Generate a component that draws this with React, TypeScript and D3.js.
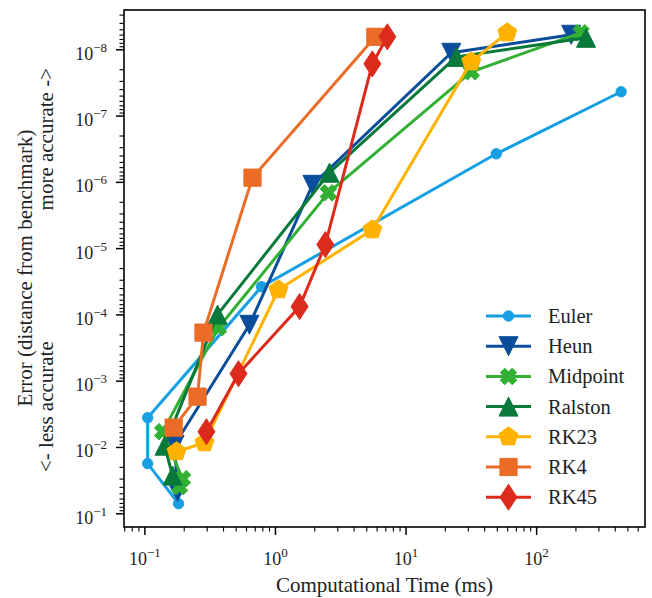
import React from "react";
import * as d3 from "d3";

// ---------- data ----------
const methods = ["Euler", "Heun", "Midpoint", "Ralston", "RK23", "RK4", "RK45"];
const colors = ["#16a0e3", "#0a4e9b", "#31b034", "#08793b", "#ffb300", "#eb6c27", "#dc2a1c"];
const shapes = ["circle", "triDown", "xfill", "triUp", "pentagon", "square", "thinDiamond"];

const eulerTime = [0.181, 0.105, 0.105, 0.782, 49.1, 444];
const eulerErr = [0.0705, 0.0175, 0.00356, 3.76e-5, 3.71e-7, 4.3e-8];

const heunTime = [0.178, 0.169, 0.632, 1.92, 22.2, 184];
const heunErr = [0.0465, 0.0091, 1.41e-4, 1.09e-6, 1.11e-8, 5.94e-9];

const midpointTime = [0.184, 0.194, 0.137, 0.366, 2.54, 31.6, 219];
const midpointErr = [0.039, 0.0296, 0.00578, 1.56e-4, 1.44e-6, 2.15e-8, 5.54e-9];

const ralstonTime = [0.163, 0.1415, 0.36, 2.59, 24.3, 239];
const ralstonErr = [0.0266, 0.0094, 9.9e-5, 7.16e-7, 1.28e-8, 6.6e-9];

const rk23Time = [0.175, 0.286, 1.054, 5.52, 31.6, 59.6];
const rk23Err = [0.01156, 0.00848, 4.17e-5, 5.19e-6, 1.52e-8, 5.54e-9];

const rk4Time = [0.166, 0.253, 0.281, 0.667, 5.82];
const rk4Err = [0.00502, 0.00171, 1.85e-4, 8.5e-7, 6.37e-9];

const rk45Time = [0.296, 0.521, 1.53, 2.41, 5.52, 7.19];
const rk45Err = [0.00578, 7.7e-4, 7.5e-5, 8.7e-6, 1.63e-8, 6.37e-9];

const seriesTimes = [eulerTime, heunTime, midpointTime, ralstonTime, rk23Time, rk4Time, rk45Time];
const seriesErrs = [eulerErr, heunErr, midpointErr, ralstonErr, rk23Err, rk4Err, rk45Err];

const xMajorExp = [-1, 0, 1, 2];
const yMajorExp = [-8, -7, -6, -5, -4, -3, -2, -1];

const xLabel = "Computational Time (ms)";
const yLabel1 = "Error (distance from benchmark)";
const yLabelLess = "<- less accurate";
const yLabelMore = "more accurate ->";

// ---------- layout ----------
const W = 652;
const H = 598;
const L = 124, R = 645, T = 10, B = 527;
const FONT = "Liberation Serif, serif";
const TXT = { fontFamily: FONT };

const x = d3.scaleLog().domain([Math.pow(10, -1.16), Math.pow(10, 2.83)]).range([L, R]);
const y = d3.scaleLog().domain([Math.pow(10, -0.8), Math.pow(10, -8.6)]).range([B, T]);

function markerPath(shape: string): string {
  switch (shape) {
    case "circle": {
      const r = 5.2;
      return `M${r},0A${r},${r} 0 1,1 ${-r},0A${r},${r} 0 1,1 ${r},0Z`;
    }
    case "triDown": {
      const s = 9.5;
      return `M${-s},${-s}L${s},${-s}L0,${s}Z`;
    }
    case "triUp": {
      const s = 9.5;
      return `M0,${-s}L${s},${s}L${-s},${s}Z`;
    }
    case "square": {
      const s = 8.6;
      return `M${-s},${-s}L${s},${-s}L${s},${s}L${-s},${s}Z`;
    }
    case "thinDiamond": {
      const w = 8.5, h = 13;
      return `M0,${-h}L${w},0L0,${h}L${-w},0Z`;
    }
    case "pentagon": {
      const r = 10;
      const pts = d3.range(5).map((i) => {
        const a = -Math.PI / 2 + (i * 2 * Math.PI) / 5;
        return [r * Math.cos(a), r * Math.sin(a)];
      });
      return "M" + pts.map((p) => p.join(",")).join("L") + "Z";
    }
    case "xfill": {
      const a = 8.5, w = 3.2;
      const base = [
        [-w, -a], [w, -a], [w, -w], [a, -w], [a, w], [w, w], [w, a], [-w, a], [-w, w], [-a, w], [-a, -w], [-w, -w],
      ];
      const c = Math.cos(Math.PI / 4), s = Math.sin(Math.PI / 4);
      const pts = base.map(([px, py]) => [px * c - py * s, px * s + py * c]);
      return "M" + pts.map((p) => p.join(",")).join("L") + "Z";
    }
  }
  return "";
}

function supLabel(exp: number) {
  const s = exp < 0 ? "\u2212" + Math.abs(exp) : String(exp);
  return [
    <tspan key="b">10</tspan>,
    <tspan key="s" dy={-8} fontSize={13}>{s}</tspan>,
  ];
}

export default function App() {
  const line = d3
    .line<[number, number]>()
    .x((d) => x(d[0]))
    .y((d) => y(d[1]));

  const [x0, x1] = x.domain();
  const [y0, y1] = y.domain();
  const xMinor: number[] = [];
  for (let e = -2; e <= 3; e++) {
    for (let k = 2; k <= 9; k++) {
      const v = k * Math.pow(10, e);
      if (v >= x0 && v <= x1) xMinor.push(v);
    }
  }
  const yMinor: number[] = [];
  for (let e = -10; e <= 0; e++) {
    for (let k = 2; k <= 9; k++) {
      const v = k * Math.pow(10, e);
      if (v <= y0 && v >= y1) yMinor.push(v);
    }
  }

  const legendX0 = 486, legendX1 = 531, legendTextX = 548, legendY0 = 316, legendStep = 30.2;

  return (
    <svg
      width={W}
      height={H}
      style={{ position: "absolute", left: 0, top: 0, background: "#fff" }}
    >
      <rect x={0} y={0} width={W} height={H} fill="#fff" />
      <defs>
        <clipPath id="plotclip">
          <rect x={L} y={T} width={R - L} height={B - T} />
        </clipPath>
      </defs>

      {/* series */}
      <g clipPath="url(#plotclip)">
        {methods.map((m, i) => {
          const pts: [number, number][] = seriesTimes[i].map((t, j) => [t, seriesErrs[i][j]]);
          return (
            <g key={m}>
              <path d={line(pts) || ""} fill="none" stroke={colors[i]} strokeWidth={3} strokeLinejoin="round" />
              {pts.map((p, j) => (
                <path
                  key={j}
                  d={markerPath(shapes[i])}
                  transform={`translate(${x(p[0])},${y(p[1])})`}
                  fill={colors[i]}
                  stroke={colors[i]}
                  strokeWidth={1}
                />
              ))}
            </g>
          );
        })}
      </g>

      {/* frame */}
      <rect x={L} y={T} width={R - L} height={B - T} fill="none" stroke="#000" strokeWidth={1.6} />

      {/* x ticks */}
      {xMinor.map((v, i) => (
        <line key={"xm" + i} x1={x(v)} x2={x(v)} y1={B} y2={B + 4.5} stroke="#000" strokeWidth={1.1} />
      ))}
      {xMajorExp.map((e) => {
        const px = x(Math.pow(10, e));
        return (
          <g key={"xM" + e}>
            <line x1={px} x2={px} y1={B} y2={B + 8} stroke="#000" strokeWidth={1.5} />
            <text x={px} y={565} textAnchor="middle" fontSize={18} fill="#222" style={TXT}>
              {supLabel(e)}
            </text>
          </g>
        );
      })}

      {/* y ticks */}
      {yMinor.map((v, i) => (
        <line key={"ym" + i} x1={L - 4.5} x2={L} y1={y(v)} y2={y(v)} stroke="#000" strokeWidth={1.1} />
      ))}
      {yMajorExp.map((e) => {
        const py = y(Math.pow(10, e));
        return (
          <g key={"yM" + e}>
            <line x1={L - 8} x2={L} y1={py} y2={py} stroke="#000" strokeWidth={1.5} />
            <text x={107} y={py + 10} textAnchor="end" fontSize={18} fill="#222" style={TXT}>
              {supLabel(e)}
            </text>
          </g>
        );
      })}

      {/* axis labels */}
      <text x={(L + R) / 2} y={592} textAnchor="middle" fontSize={21} fill="#222" style={TXT}>
        {xLabel}
      </text>
      <text transform={`translate(32,268) rotate(-90)`} textAnchor="middle" fontSize={21} fill="#222" style={TXT}>
        {yLabel1}
      </text>
      <text transform={`translate(53,472) rotate(-90)`} textAnchor="start" fontSize={21} fill="#222" style={TXT}>
        {yLabelLess}
      </text>
      <text transform={`translate(53,68) rotate(-90)`} textAnchor="end" fontSize={21} fill="#222" style={TXT}>
        {yLabelMore}
      </text>

      {/* legend */}
      {methods.map((m, i) => {
        const ly = legendY0 + i * legendStep;
        return (
          <g key={"lg" + m}>
            <line x1={legendX0} x2={legendX1} y1={ly} y2={ly} stroke={colors[i]} strokeWidth={3} />
            <path
              d={markerPath(shapes[i])}
              transform={`translate(${(legendX0 + legendX1) / 2},${ly})`}
              fill={colors[i]}
              stroke={colors[i]}
              strokeWidth={1}
            />
            <text x={legendTextX} y={ly + 7} fontSize={20.5} fill="#222" style={TXT}>
              {m}
            </text>
          </g>
        );
      })}
    </svg>
  );
}
